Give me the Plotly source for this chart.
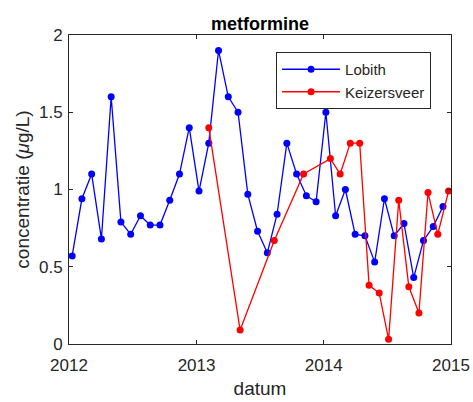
import plotly.graph_objects as go

# Lobith: four-weekly samples
lobith_dates = [
    "2012-01-10", "2012-02-07", "2012-03-06", "2012-04-03", "2012-05-01", "2012-05-29",
    "2012-06-26", "2012-07-24", "2012-08-21", "2012-09-18", "2012-10-16", "2012-11-13",
    "2012-12-11", "2013-01-08", "2013-02-05", "2013-03-05", "2013-04-02", "2013-04-30",
    "2013-05-28", "2013-06-25", "2013-07-23", "2013-08-20", "2013-09-17", "2013-10-15",
    "2013-11-12", "2013-12-10", "2014-01-07", "2014-02-04", "2014-03-04", "2014-04-01",
    "2014-04-29", "2014-05-27", "2014-06-24", "2014-07-22", "2014-08-19", "2014-09-16",
    "2014-10-14", "2014-11-11", "2014-12-09",
]
lobith_values = [
    0.57, 0.94, 1.10, 0.68, 1.60, 0.79, 0.71, 0.83, 0.77, 0.77, 0.93, 1.10, 1.40,
    0.99, 1.30, 1.90, 1.60, 1.50, 0.97, 0.73, 0.59, 0.84, 1.30, 1.10, 0.96, 0.92,
    1.50, 0.83, 1.00, 0.71, 0.70, 0.53, 0.94, 0.70, 0.78, 0.43, 0.67, 0.76, 0.89,
]

# Keizersveer samples
keizersveer_dates = [
    "2013-02-05", "2013-05-06", "2013-08-12", "2013-11-04", "2014-01-20", "2014-02-17",
    "2014-03-18", "2014-04-14", "2014-05-11", "2014-06-09", "2014-07-06", "2014-08-04",
    "2014-09-02", "2014-10-01", "2014-10-27", "2014-11-24", "2014-12-25",
]
keizersveer_values = [
    1.40, 0.09, 0.67, 1.10, 1.20, 1.10, 1.30, 1.30, 0.38, 0.33, 0.03, 0.93,
    0.37, 0.20, 0.98, 0.71, 0.99,
]

year_ticks = ["2012-01-01", "2013-01-01", "2014-01-01", "2015-01-01"]
year_labels = ["2012", "2013", "2014", "2015"]
y_ticks = [0, 0.5, 1, 1.5, 2]
y_labels = ["0", "0.5", "1", "1.5", "2"]

FONT = "Liberation Sans, Arial, sans-serif"
AXIS_COLOR = "#262626"

fig = go.Figure()
fig.add_trace(go.Scatter(
    x=lobith_dates, y=lobith_values, name="Lobith", mode="lines+markers",
    line=dict(color="#0000FF", width=1.3),
    marker=dict(color="#0000FF", size=7, symbol="circle"),
))
fig.add_trace(go.Scatter(
    x=keizersveer_dates, y=keizersveer_values, name="Keizersveer", mode="lines+markers",
    line=dict(color="#FF0000", width=1.3),
    marker=dict(color="#FF0000", size=7, symbol="circle"),
))

axis_common = dict(
    showline=True, linecolor=AXIS_COLOR, linewidth=1, mirror="ticks",
    ticks="inside", ticklen=4, tickcolor=AXIS_COLOR,
    showgrid=False, zeroline=False, automargin=False,
    tickfont=dict(family=FONT, size=17, color=AXIS_COLOR),
)

fig.update_xaxes(
    type="date", range=["2012-01-01", "2015-01-01"],
    tickmode="array", tickvals=year_ticks, ticktext=year_labels,
    ticklabelstandoff=6,
    title=dict(text="datum", font=dict(family=FONT, size=19, color=AXIS_COLOR), standoff=7),
    **axis_common,
)
fig.update_yaxes(
    range=[0, 2], tickmode="array", tickvals=y_ticks, ticktext=y_labels,
    ticklabelstandoff=2,
    title=dict(text="concentratie (<i>μ</i>g/L)", font=dict(family=FONT, size=19, color=AXIS_COLOR), standoff=4),
    **axis_common,
)

fig.update_layout(
    width=473, height=402,
    margin=dict(l=69, r=22, t=35, b=58),
    paper_bgcolor="white", plot_bgcolor="white",
    title=dict(text="<b>metformine</b>", xref="paper", x=0.5, xanchor="center",
               yref="container", y=0.94, yanchor="middle",
               font=dict(family=FONT, size=18, color="black")),
    legend=dict(
        x=0.542, y=0.945, xanchor="left", yanchor="top",
        bgcolor="white", bordercolor=AXIS_COLOR, borderwidth=1,
        font=dict(family=FONT, size=15, color=AXIS_COLOR),
        itemwidth=58, tracegroupgap=0,
    ),
    showlegend=True,
)

fig.write_html("out.html")
